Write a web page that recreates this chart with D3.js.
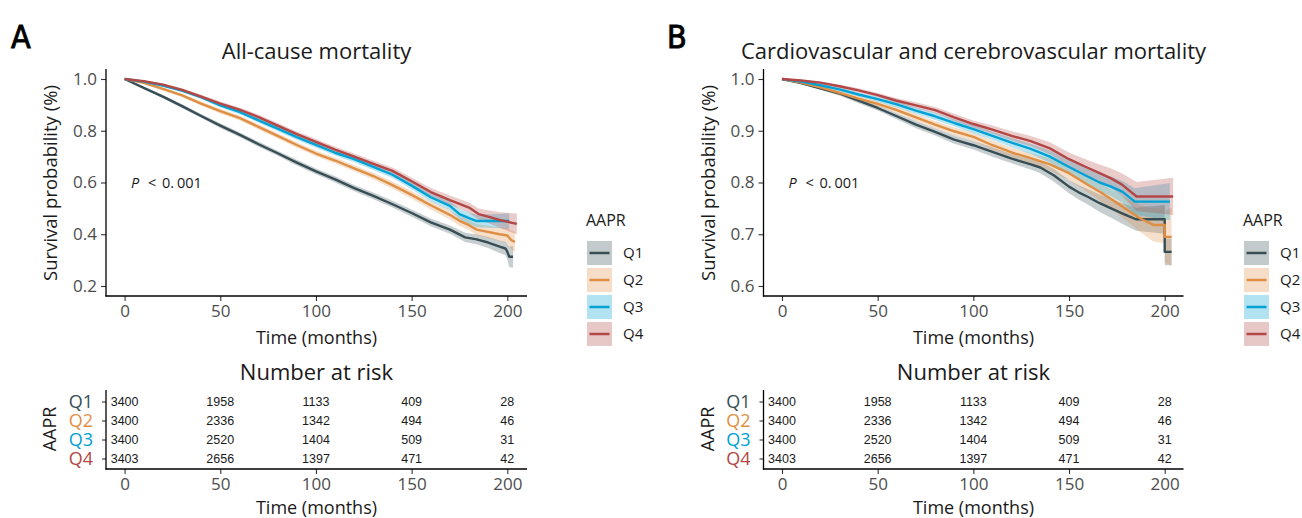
<!DOCTYPE html>
<html>
<head>
<meta charset="utf-8">
<script src="https://cdn.jsdelivr.net/npm/d3@7"></script>
<style>
  html, body { margin: 0; padding: 0; background: #fff; }
  svg { display: block; font-family: "Open Sans", "Noto Sans", sans-serif; }
</style>
</head>
<body>
<svg id="chart" width="1302" height="518"></svg>
<script>
// groups and colours (JAMA-like palette)
var groups = ["Q1", "Q2", "Q3", "Q4"];
var colors = ["#374E55", "#DF8F44", "#00A1D5", "#B24745"];

// KM estimates: [month, survival, ci half-width]
var allCauseQ1 = [[0,1.000,0],[10,0.966,0.004],[20,0.932,0.006],[30,0.895,0.007],[40,0.857,0.008],[50,0.820,0.009],[60,0.785,0.009],[70,0.748,0.010],[80,0.713,0.010],[90,0.677,0.011],[100,0.643,0.011],[110,0.612,0.012],[120,0.578,0.012],[130,0.548,0.013],[140,0.516,0.013],[150,0.482,0.014],[160,0.446,0.015],[170,0.418,0.016],[178,0.388,0.018],[184,0.380,0.019],[190,0.368,0.021],[196,0.352,0.024],[199,0.345,0.026],[200,0.333,0.030],[201,0.313,0.040],[203,0.313,0.042]];
var allCauseQ2 = [[0,1.000,0],[10,0.985,0.004],[20,0.962,0.006],[30,0.937,0.007],[40,0.905,0.008],[50,0.876,0.009],[60,0.850,0.009],[70,0.815,0.010],[80,0.780,0.010],[90,0.745,0.011],[100,0.712,0.011],[110,0.685,0.012],[120,0.655,0.012],[130,0.625,0.013],[140,0.590,0.014],[150,0.552,0.015],[160,0.512,0.016],[170,0.475,0.018],[175,0.452,0.019],[180,0.435,0.020],[184,0.418,0.022],[196,0.400,0.026],[200,0.395,0.030],[202,0.378,0.036],[204,0.370,0.040]];
var allCauseQ3 = [[0,1.000,0],[10,0.990,0.003],[20,0.975,0.005],[30,0.955,0.006],[40,0.930,0.007],[50,0.898,0.008],[60,0.873,0.009],[70,0.840,0.009],[80,0.808,0.010],[90,0.775,0.010],[100,0.745,0.011],[110,0.715,0.011],[120,0.690,0.012],[130,0.660,0.012],[140,0.630,0.013],[150,0.588,0.014],[160,0.543,0.016],[170,0.510,0.018],[175,0.478,0.020],[180,0.462,0.022],[184,0.451,0.024],[195,0.451,0.027],[201,0.451,0.030]];
var allCauseQ4 = [[0,1.000,0],[10,0.992,0.003],[20,0.978,0.005],[30,0.958,0.006],[40,0.932,0.007],[50,0.905,0.008],[60,0.882,0.008],[70,0.853,0.009],[80,0.820,0.010],[90,0.787,0.010],[100,0.757,0.011],[110,0.727,0.011],[120,0.700,0.012],[130,0.672,0.012],[140,0.645,0.013],[150,0.605,0.014],[160,0.563,0.016],[170,0.532,0.018],[180,0.503,0.020],[185,0.478,0.022],[190,0.468,0.025],[196,0.455,0.030],[205,0.440,0.040]];

var cvdQ1 = [[0,1.000,0],[10,0.992,0.002],[20,0.982,0.003],[30,0.972,0.004],[40,0.958,0.005],[50,0.944,0.005],[60,0.928,0.006],[70,0.912,0.007],[80,0.898,0.007],[90,0.883,0.008],[100,0.872,0.008],[110,0.859,0.009],[120,0.846,0.009],[130,0.835,0.010],[135,0.829,0.011],[142,0.814,0.012],[150,0.792,0.013],[155,0.781,0.014],[160,0.772,0.015],[166,0.760,0.017],[172,0.750,0.018],[178,0.740,0.020],[185,0.729,0.022],[200,0.729,0.028],[200,0.666,0.026],[203.6,0.666,0.026]];
var cvdQ2 = [[0,1.000,0],[10,0.993,0.002],[20,0.984,0.003],[30,0.973,0.004],[40,0.962,0.005],[50,0.952,0.005],[60,0.940,0.006],[70,0.926,0.007],[80,0.912,0.007],[90,0.899,0.008],[100,0.888,0.008],[110,0.872,0.009],[120,0.858,0.009],[130,0.847,0.010],[140,0.835,0.012],[150,0.818,0.013],[160,0.795,0.015],[166,0.782,0.017],[172,0.768,0.019],[178,0.753,0.021],[187,0.731,0.026],[194,0.718,0.032],[200,0.718,0.036],[200,0.695,0.050],[203.6,0.695,0.056]];
var cvdQ3 = [[0,1.000,0],[10,0.995,0.002],[20,0.988,0.003],[30,0.980,0.004],[40,0.970,0.004],[50,0.961,0.005],[60,0.951,0.006],[70,0.939,0.006],[80,0.928,0.007],[90,0.915,0.007],[100,0.903,0.008],[110,0.890,0.008],[120,0.877,0.009],[130,0.865,0.010],[140,0.850,0.012],[150,0.830,0.013],[160,0.811,0.015],[166,0.800,0.017],[172,0.792,0.019],[178,0.782,0.021],[184.4,0.763,0.026],[202.7,0.763,0.036]];
var cvdQ4 = [[0,1.000,0],[10,0.997,0.001],[20,0.993,0.002],[30,0.986,0.003],[40,0.978,0.004],[50,0.969,0.004],[60,0.958,0.005],[70,0.949,0.006],[80,0.940,0.006],[90,0.926,0.007],[100,0.913,0.007],[110,0.902,0.008],[120,0.890,0.009],[130,0.880,0.010],[140,0.866,0.012],[150,0.845,0.013],[160,0.828,0.015],[166,0.818,0.017],[172,0.808,0.019],[178,0.795,0.022],[185.3,0.773,0.028],[204.4,0.773,0.036]];

// number at risk
var riskTimes = [0, 50, 100, 150, 200];
var riskQ1 = [3400, 1958, 1133, 409, 28];
var riskQ2 = [3400, 2336, 1342, 494, 46];
var riskQ3 = [3400, 2520, 1404, 509, 31];
var riskQ4 = [3403, 2656, 1397, 471, 42];

var xTicks = [0, 50, 100, 150, 200];
var yTicksA = [0.2, 0.4, 0.6, 0.8, 1.0];
var yTicksB = [0.6, 0.7, 0.8, 0.9, 1.0];

var svg = d3.select("#chart");
var axisGrey = "#4D4D4D";
var ink = "#1a1a1a";

function styleAxis(g){
  g.select(".domain").remove();
  g.selectAll(".tick line").attr("stroke", "#333").attr("stroke-width", 1.1);
  g.selectAll(".tick text").attr("fill", axisGrey).style("font-family", "Open Sans, sans-serif");
}

function drawPanel(p){
  var g = svg.append("g");
  var x = d3.scaleLinear().domain([0, 200]).range([p.x0, p.x200]);
  var y = d3.scaleLinear().domain([p.yTicks[0], 1.0]).range([286, 79]);

  g.append("text").attr("x", p.letterX).attr("y", 48).text(p.letter)
    .attr("font-size", 32).attr("fill", "#000").attr("stroke", "#000").attr("stroke-width", 0.9)
    .style("font-family", "'DejaVu Sans Condensed','DejaVu Sans',sans-serif");

  var cx = (p.axL + p.axR) / 2;
  g.append("text").attr("x", cx).attr("y", 59).attr("text-anchor", "middle")
    .attr("font-size", 22).attr("fill", ink).text(p.title);

  // ribbons then lines
  var area = d3.area().x(function(d){ return x(d[0]); })
    .y0(function(d){ return y(d[1] - d[2]); }).y1(function(d){ return y(d[1] + d[2]); });
  var line = d3.line().x(function(d){ return x(d[0]); }).y(function(d){ return y(d[1]); });

  p.series.forEach(function(s, i){
    g.append("path").attr("d", area(s)).attr("fill", colors[i]).attr("fill-opacity", 0.28);
  });
  p.series.forEach(function(s, i){
    g.append("path").attr("d", line(s)).attr("fill", "none")
      .attr("stroke", colors[i]).attr("stroke-width", 2.4).attr("stroke-linejoin", "round");
  });

  // axes
  var ya = g.append("g").attr("transform", "translate(" + p.axL + ",0)")
    .call(d3.axisLeft(y).tickValues(p.yTicks).tickFormat(d3.format(".1f")).tickSize(5).tickPadding(4));
  styleAxis(ya);
  ya.selectAll(".tick text").attr("font-size", 17);
  var xa = g.append("g").attr("transform", "translate(0,296)")
    .call(d3.axisBottom(x).tickValues(xTicks).tickSize(5).tickPadding(4));
  styleAxis(xa);
  xa.selectAll(".tick text").attr("font-size", 17);
  g.append("line").attr("x1", p.axL).attr("x2", p.axL).attr("y1", 69).attr("y2", 296.6)
    .attr("stroke", "#000").attr("stroke-width", 1.3);
  g.append("line").attr("x1", p.axL - 0.6).attr("x2", p.axR).attr("y1", 296).attr("y2", 296)
    .attr("stroke", "#000").attr("stroke-width", 1.3);

  g.append("text").attr("transform", "translate(" + (p.axL - 49) + ",183) rotate(-90)")
    .attr("text-anchor", "middle").attr("font-size", 18.5).attr("fill", ink)
    .text("Survival probability (%)");
  g.append("text").attr("x", cx).attr("y", 344).attr("text-anchor", "middle")
    .attr("font-size", 18).attr("fill", ink).text("Time (months)");

  var px = p.axL + 25;
  var pt = g.append("text").attr("y", 187.5).attr("font-size", 14.5).attr("fill", ink);
  pt.append("tspan").attr("x", px).attr("font-style", "italic").text("P");
  pt.append("tspan").attr("x", px + 17).text("<");
  pt.append("tspan").attr("x", px + 31).text("0.");
  pt.append("tspan").attr("x", px + 46).text("001");

  // legend
  var lg = g.append("g").attr("transform", "translate(" + p.legX + ",0)");
  lg.append("text").attr("x", 0).attr("y", 226).attr("font-size", 16).attr("fill", ink).text("AAPR");
  groups.forEach(function(q, i){
    var ky = 241 + i * 27;
    lg.append("rect").attr("x", 1).attr("y", ky).attr("width", 25).attr("height", 24)
      .attr("fill", colors[i]).attr("fill-opacity", 0.3);
    lg.append("line").attr("x1", 3.5).attr("x2", 23.5).attr("y1", ky + 12).attr("y2", ky + 12)
      .attr("stroke", colors[i]).attr("stroke-width", 2.5);
    lg.append("text").attr("x", 37).attr("y", ky + 17).attr("font-size", 15)
      .attr("fill", ink).text(q);
  });

  // number at risk table
  var risk = [riskQ1, riskQ2, riskQ3, riskQ4];
  var ry = d3.scalePoint().domain(groups).range([401.5, 458.5]);
  g.append("text").attr("x", cx).attr("y", 380).attr("text-anchor", "middle")
    .attr("font-size", 22).attr("fill", ink).text("Number at risk");
  groups.forEach(function(q, i){
    g.selectAll(null).data(riskTimes).enter().append("text")
      .attr("x", function(d){ return x(d); }).attr("y", ry(q) + 4.5)
      .attr("text-anchor", "middle").attr("font-size", 12.5).attr("fill", ink)
      .style("font-family", "'Liberation Sans Narrow','Liberation Sans',sans-serif")
      .text(function(d, j){ return risk[i][j]; });
  });
  var ra = g.append("g").attr("transform", "translate(" + p.axL + ",0)")
    .call(d3.axisLeft(ry).tickSize(4).tickPadding(9));
  styleAxis(ra);
  ra.selectAll(".tick text").attr("font-size", 18).attr("dy", "0.34em")
    .attr("fill", function(d, i){ return colors[i]; });
  var rxa = g.append("g").attr("transform", "translate(0,469)")
    .call(d3.axisBottom(x).tickValues(xTicks).tickSize(5).tickPadding(4));
  styleAxis(rxa);
  rxa.selectAll(".tick text").attr("font-size", 17);
  g.append("line").attr("x1", p.axL).attr("x2", p.axL).attr("y1", 390).attr("y2", 469.6)
    .attr("stroke", "#000").attr("stroke-width", 1.3);
  g.append("line").attr("x1", p.axL - 0.6).attr("x2", p.axR).attr("y1", 469).attr("y2", 469)
    .attr("stroke", "#000").attr("stroke-width", 1.3);
  g.append("text").attr("transform", "translate(" + (p.axL - 50) + ",429) rotate(-90)")
    .attr("text-anchor", "middle").attr("font-size", 18).attr("fill", ink).text("AAPR");
  g.append("text").attr("x", cx).attr("y", 514).attr("text-anchor", "middle")
    .attr("font-size", 18).attr("fill", ink).text("Time (months)");
}

drawPanel({
  letter: "A", letterX: 11, title: "All-cause mortality",
  axL: 106, axR: 527, x0: 124.6, x200: 507.3, yTicks: yTicksA, legX: 586,
  series: [allCauseQ1, allCauseQ2, allCauseQ3, allCauseQ4]
});
drawPanel({
  letter: "B", letterX: 667, title: "Cardiovascular and cerebrovascular mortality",
  axL: 763.5, axR: 1183.5, x0: 782, x200: 1164.7, yTicks: yTicksB, legX: 1243,
  series: [cvdQ1, cvdQ2, cvdQ3, cvdQ4]
});
</script>
</body>
</html>
